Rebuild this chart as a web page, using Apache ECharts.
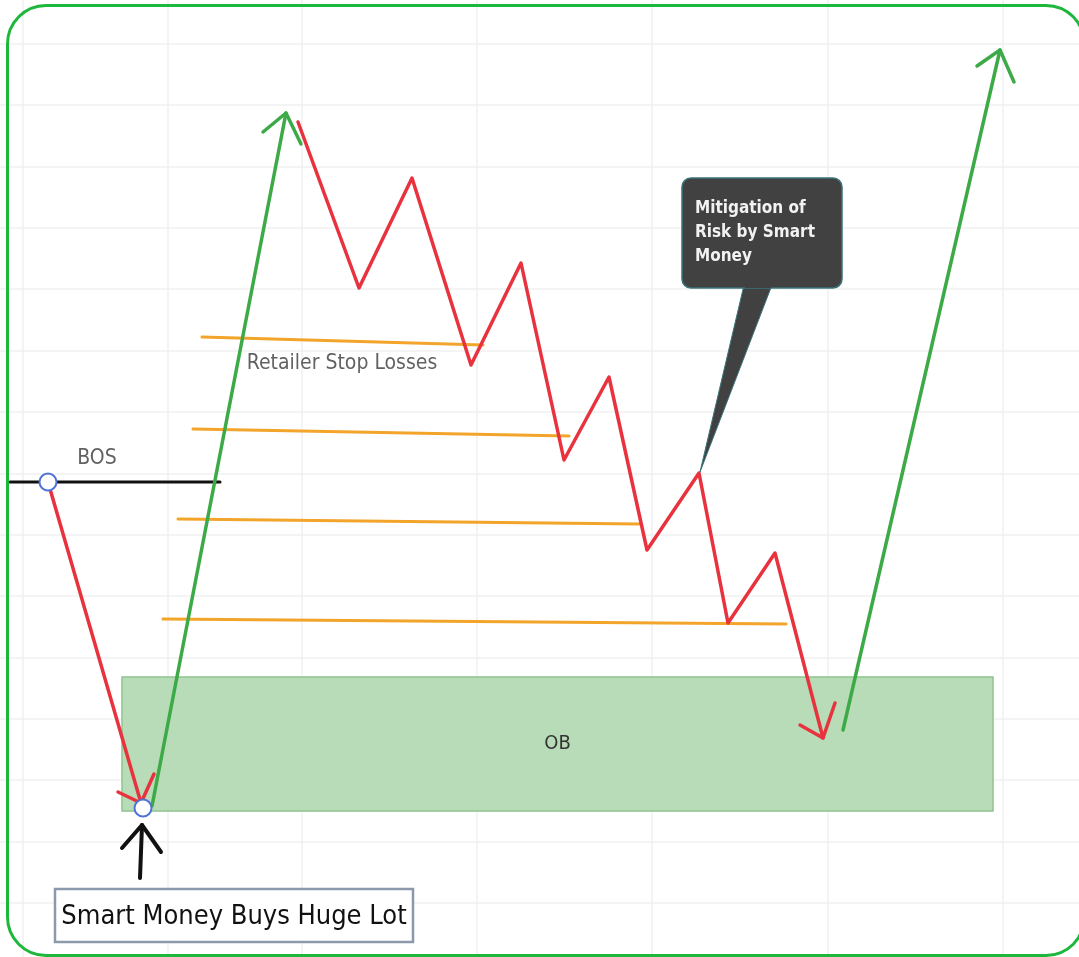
<!DOCTYPE html>
<html>
<head>
<meta charset="utf-8">
<script src="https://cdn.jsdelivr.net/npm/echarts@6/dist/echarts.min.js"></script>
<style>
  html, body { margin: 0; padding: 0; background: #fff; overflow: hidden; }
  #main { position: absolute; left: 0; top: 0; width: 1079px; height: 957px; }
  #frame {
    position: absolute; left: 6px; top: 4px; width: 1080px; height: 953px;
    box-sizing: border-box; border: 3px solid #1db73b; border-radius: 40px;
    pointer-events: none;
  }
</style>
</head>
<body>
<div id="main"></div>
<div id="frame"></div>
<script>
// chart space: x = time (0..1079), y = price level drawn top-down (0..957)
var gridX = [23, 168, 302, 477, 652, 828, 1003];
var gridY = [44, 105, 167, 228, 289, 351, 412, 474, 535, 596, 658, 719, 780, 842, 903];

var bosLine = [[10, 482], [220, 482]];
var bosDrop = [[48, 482], [141, 803]];
var bosDropHead = [[118, 792], [141, 803], [154, 774]];
var impulseUp = [[152, 806], [286, 113]];
var impulseUpHead = [[263, 132], [286, 113], [301, 144]];
var pullback = [[298, 122], [359, 288], [412, 178], [471, 365], [521, 263], [564, 460],
                [609, 377], [647, 550], [699, 473], [728, 623], [775, 553], [823, 738]];
var pullbackHead = [[800, 725], [823, 738], [835, 703]];
var rally = [[843, 730], [1000, 50]];
var rallyHead = [[977, 66], [1000, 50], [1014, 82]];
var buyArrow = [[140, 878], [142, 825]];
var buyArrowHead = [[122, 848], [142, 825], [161, 852]];
var stopLosses = [
  [[202, 337], [483, 345]],
  [[193, 429], [569, 436]],
  [[178, 519], [639, 524]],
  [[163, 619], [786, 624]]
];
var swingPoints = [[48, 482], [143, 808]];
var obZone = [122, 677, 993, 811];
var obLabel = 'OB';

var noteTexts = ['BOS', 'Retailer Stop Losses'];
var notePoints = [[97, 459], [342, 364]];

var calloutBox = [682, 178, 842, 288];
var calloutPointer = [[744, 285], [772, 285], [700, 472]];
var calloutText = 'Mitigation of\nRisk by Smart\nMoney';

var buyBox = [55, 889, 413, 942];
var buyText = 'Smart Money Buys Huge Lot';

var chartDom = document.getElementById('main');
var myChart = echarts.init(chartDom);

var RED = '#e8333f';
var GREEN = '#3daa48';
var ORANGE = '#f3a42a';
var FONT = '"DejaVu Sans Condensed", "DejaVu Sans", sans-serif';

function path(data, color, width, z) {
    return {
        type: 'line',
        data: data,
        showSymbol: false,
        silent: true,
        z: z || 5,
        lineStyle: { color: color, width: width, cap: 'round', join: 'round' }
    };
}

var series = [];

// faint background grid
series.push({
    type: 'line',
    data: [],
    silent: true,
    z: 1,
    markLine: {
        silent: true,
        z: 0,
        symbol: 'none',
        label: { show: false },
        lineStyle: { color: '#f1f1f1', width: 1.5, type: 'solid' },
        data: gridX.map(function (v) { return { xAxis: v }; })
            .concat(gridY.map(function (v) { return { yAxis: v }; }))
    }
});

// order block
series.push({
    type: 'line',
    data: [],
    silent: true,
    z: 2,
    markArea: {
        silent: true,
        z: 2,
        itemStyle: { color: '#b8dcb7', borderColor: '#8ec48d', borderWidth: 1.5 },
        label: { show: true, position: 'inside', formatter: obLabel, color: '#333', fontSize: 20, fontFamily: FONT },
        data: [[{ xAxis: obZone[0], yAxis: obZone[1] }, { xAxis: obZone[2], yAxis: obZone[3] }]]
    }
});

stopLosses.forEach(function (seg) { series.push(path(seg, ORANGE, 3, 4)); });

series.push(path(bosLine, '#111111', 3, 5));
series.push(path(bosDrop, RED, 3.5, 6));
series.push(path(bosDropHead, RED, 3.5, 6));
series.push(path(impulseUp, GREEN, 3.5, 6));
series.push(path(impulseUpHead, GREEN, 3.5, 6));
series.push(path(pullback, RED, 3.5, 6));
series.push(path(pullbackHead, RED, 3.5, 6));
series.push(path(rally, GREEN, 3.5, 6));
series.push(path(rallyHead, GREEN, 3.5, 6));
series.push(path(buyArrow, '#111111', 4, 6));
series.push(path(buyArrowHead, '#111111', 4, 6));

// callout
series.push({
    type: 'custom',
    silent: true,
    z: 7,
    data: [0],
    renderItem: function (params, api) {
        var p0 = api.coord([calloutBox[0], calloutBox[1]]);
        var p1 = api.coord([calloutBox[2], calloutBox[3]]);
        return {
            type: 'group',
            children: [
                { type: 'polygon', shape: { points: calloutPointer.map(function (p) { return api.coord(p); }) },
                  style: { fill: '#414141', stroke: '#3b7478', lineWidth: 1 } },
                { type: 'rect', shape: { x: p0[0], y: p0[1], width: p1[0] - p0[0], height: p1[1] - p0[1], r: 9 },
                  style: { fill: '#414141', stroke: '#3b7478', lineWidth: 1.5 } },
                { type: 'rect', shape: { x: calloutPointer[0][0] + 1, y: p1[1] - 4, width: calloutPointer[1][0] - calloutPointer[0][0] - 2, height: 4 },
                  style: { fill: '#414141' } },
                { type: 'text', x: p0[0] + 13, y: p0[1] + 19,
                  style: { text: calloutText, fill: '#f2f2f2', font: 'bold 17px ' + FONT, lineHeight: 24 } }
            ]
        };
    }
});

// buy label box
series.push({
    type: 'custom',
    silent: true,
    z: 7,
    data: [0],
    renderItem: function (params, api) {
        var p0 = api.coord([buyBox[0], buyBox[1]]);
        var p1 = api.coord([buyBox[2], buyBox[3]]);
        return {
            type: 'group',
            children: [
                { type: 'rect', shape: { x: p0[0], y: p0[1], width: p1[0] - p0[0], height: p1[1] - p0[1] },
                  style: { fill: '#ffffff', stroke: '#8b99aa', lineWidth: 2.5 } },
                { type: 'text', x: (p0[0] + p1[0]) / 2, y: (p0[1] + p1[1]) / 2 + 1,
                  style: { text: buyText, fill: '#111', font: '27px ' + FONT, align: 'center', verticalAlign: 'middle' } }
            ]
        };
    }
});

// swing point circles
series.push({
    type: 'scatter',
    data: swingPoints,
    symbolSize: 17,
    silent: true,
    z: 8,
    itemStyle: { color: '#ffffff', borderColor: '#4f73d6', borderWidth: 2, opacity: 1 }
});

// text notes
series.push({
    type: 'scatter',
    data: notePoints.map(function (p, i) { return { value: p, name: noteTexts[i] }; }),
    symbolSize: 0,
    silent: true,
    z: 8,
    label: {
        show: true,
        position: 'inside',
        formatter: '{b}',
        color: '#3a3a3a',
        fontSize: 21,
        fontFamily: FONT
    }
});

var option = {
    animation: false,
    backgroundColor: '#ffffff',
    grid: { left: 0, right: 0, top: 0, bottom: 0 },
    xAxis: { type: 'value', min: 0, max: 1079, show: false },
    yAxis: { type: 'value', min: 0, max: 957, inverse: true, show: false },
    series: series
};

option && myChart.setOption(option);
</script>
</body>
</html>
